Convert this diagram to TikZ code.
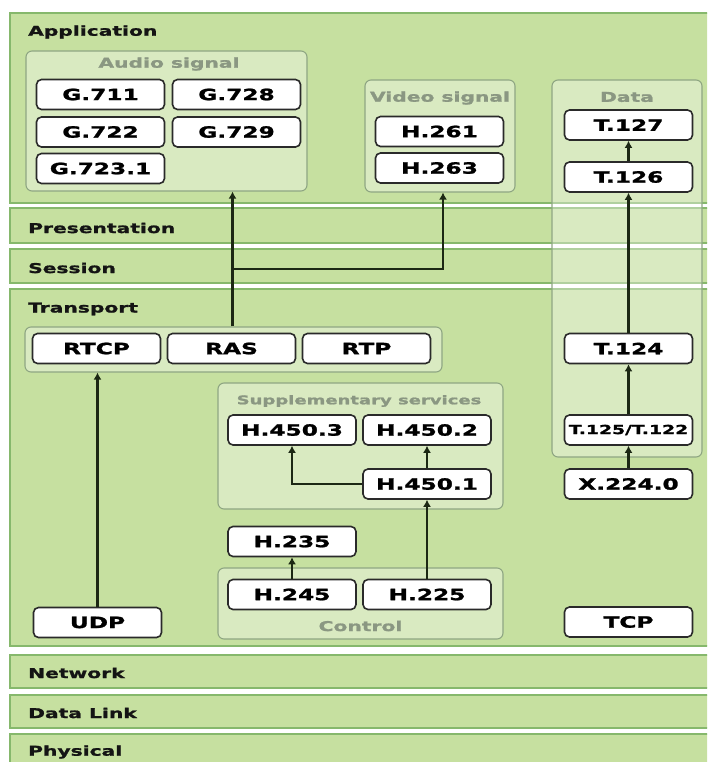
\documentclass[tikz,border=0pt]{standalone}
\usepackage{fontspec}
\setmainfont{DejaVu Sans}[FakeStretch=1.5, BoldFeatures={FakeBold=1.4}]
\usetikzlibrary{arrows.meta}

\definecolor{bandfill}{HTML}{C6E0A0}
\definecolor{bandline}{HTML}{86B86C}
\definecolor{grpline}{HTML}{8FA683}
\definecolor{titlegray}{HTML}{8A9782}
\definecolor{boxline}{HTML}{2A2A2A}
\definecolor{arrowc}{HTML}{1C2814}
\definecolor{lbltext}{HTML}{141414}

\tikzset{
  band/.style={fill=bandfill, draw=bandline, line width=1.3pt},
  layerlbl/.style={anchor=west, inner sep=0pt, text=lbltext,
    font=\bfseries\fontsize{13.5}{15}\selectfont},
  grp/.style={draw=grpline, fill=white, fill opacity=0.35, text opacity=1,
    rounded corners=6pt, line width=1.1pt, inner sep=0pt},
  grptitle/.style={inner sep=0pt, text=titlegray,
    font=\bfseries\fontsize{13.5}{15}\selectfont},
  proto/.style={draw=boxline, fill=white, rounded corners=5pt, line width=1.6pt,
    inner sep=0pt, minimum width=128pt, minimum height=30pt, text=black,
    font=\bfseries\fontsize{15.5}{17}\selectfont},
  flow/.style={-{Latex[length=7pt,width=8pt]}, line width=2.8pt, draw=arrowc},
}

\begin{document}
\begin{tikzpicture}[x=1pt, y=-1pt]
\clip (0,0) rectangle (707,762);
\fill[white] (0,0) rectangle (707,762);

% OSI layer bands
\draw[band] (10,13)  rectangle (715,203);
\draw[band] (10,208) rectangle (715,243);
\draw[band] (10,249) rectangle (715,283);
\draw[band] (10,289) rectangle (715,646);
\draw[band] (10,655) rectangle (715,688);
\draw[band] (10,695) rectangle (715,728);
\draw[band] (10,734) rectangle (715,775);

\node[layerlbl] (lapp)  at (28,32)  {Application};
\node[layerlbl] (lpres) at (28,228) {Presentation};
\node[layerlbl] (lsess) at (28,268) {Session};
\node[layerlbl] (ltran) at (28,309) {Transport};
\node[layerlbl] (lnet)  at (28,673) {Network};
\node[layerlbl] (ldl)   at (28,713) {Data Link};
\node[layerlbl] (lphy)  at (28,752) {Physical};

% grouping frames
\node[grp, minimum width=281pt, minimum height=140pt] (audio) at (166.5,121) {};
\node[grp, minimum width=150pt, minimum height=112pt] (video) at (440,136) {};
\node[grp, minimum width=150pt, minimum height=377pt] (data)  at (627,268.5) {};
\node[grp, minimum width=417pt, minimum height=45pt]  (rtrow) at (233.5,349.5) {};
\node[grp, minimum width=285pt, minimum height=126pt] (supp)  at (360.5,446) {};
\node[grp, minimum width=285pt, minimum height=71pt]  (ctrl)  at (360.5,603.5) {};

\node[grptitle] (taudio) at (169,64)  {Audio signal};
\node[grptitle] (tvideo) at (440,98)    {Video signal};
\node[grptitle] (tdata)  at (627,97)    {Data};
\node[grptitle, font=\bfseries\fontsize{12}{14}\selectfont] (tsupp) at (359,401) {Supplementary services};
\node[grptitle] (tctrl)  at (360.5,626) {Control};

% audio codecs
\node[proto] (g711)  at (100.5,94.5) {G.711};
\node[proto] (g728)  at (236.5,94.5) {G.728};
\node[proto] (g722)  at (100.5,132)  {G.722};
\node[proto] (g729)  at (236.5,132)  {G.729};
\node[proto] (g7231) at (100.5,168.5){G.723.1};

% video codecs
\node[proto] (h261) at (439.5,131.5) {H.261};
\node[proto] (h263) at (439.5,168)   {H.263};

% data conferencing
\node[proto] (t127) at (628.5,125)   {T.127};
\node[proto] (t126) at (628.5,177)   {T.126};
\node[proto] (t124) at (628.5,348.5) {T.124};
\node[proto, font=\bfseries\fontsize{12.5}{14}\selectfont] (t125) at (628.5,430) {T.125/T.122};
\node[proto] (x224) at (628.5,484)   {X.224.0};
\node[proto] (tcp)  at (628.5,622)   {TCP};

% transport protocols
\node[proto] (rtcp) at (96.5,348.5)  {RTCP};
\node[proto] (ras)  at (231.5,348.5) {RAS};
\node[proto] (rtp)  at (366.5,348.5) {RTP};
\node[proto] (udp)  at (97.5,622.5)  {UDP};

% supplementary services and control
\node[proto] (h4503) at (292,430)   {H.450.3};
\node[proto] (h4502) at (427,430)   {H.450.2};
\node[proto] (h4501) at (427,484)   {H.450.1};
\node[proto] (h235)  at (292,541.5) {H.235};
\node[proto] (h245)  at (292,594.5) {H.245};
\node[proto] (h225)  at (427,594.5) {H.225};

% connectors
\coordinate (split) at (232.5,269);
\draw[flow] (udp.north) -- (udp.north |- rtrow.south);
\draw[flow] ([xshift=1pt]ras.north |- rtrow.north) -- ([xshift=1pt]ras.north |- audio.south);
\draw[flow] (split) -| ([xshift=3pt]video.south);
\draw[flow] (t124.north) -- (t126.south);
\draw[flow] (t126.north) -- (t127.south);
\draw[flow] (t125.north) -- (t124.south);
\draw[flow] (x224.north) -- (t125.south);
\draw[flow] (h4501.west) -| (h4503.south);
\draw[flow] (h4501.north) -- (h4502.south);
\draw[flow] (h225.north) -- (h4501.south);
\draw[flow] (h245.north) -- (h235.south);
\end{tikzpicture}
\end{document}
